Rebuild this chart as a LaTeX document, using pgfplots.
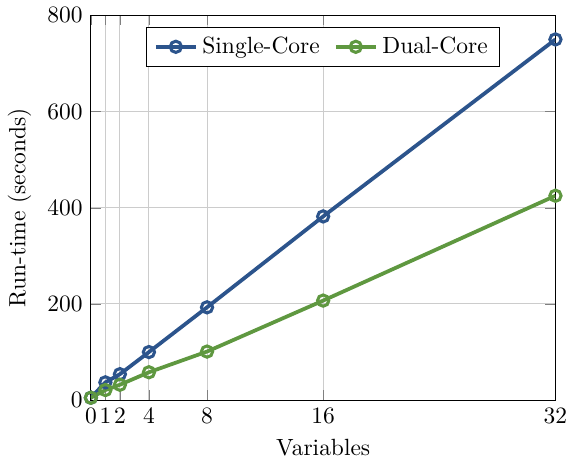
\documentclass[border=0pt]{standalone}
\usepackage{pgfplots}
\pgfplotsset{compat=1.18}
\definecolor{sblue}{RGB}{44,84,140}
\definecolor{dgreen}{RGB}{95,152,64}
\begin{document}
\begin{tikzpicture}
\begin{axis}[
  scale only axis,
  width=198pt, height=164pt,
  xmin=0, xmax=32, ymin=0, ymax=800,
  xtick={0,1,2,4,8,16,32},
  ytick={0,200,400,600,800},
  xmajorgrids, ymajorgrids,
  grid style={gray!40},
  xlabel={Variables},
  ylabel={Run-time (seconds)},
  legend style={at={(0.5,0.97)}, anchor=north, legend columns=2, /tikz/every even column/.append style={column sep=4pt}},
  tick align=inside,
]
\addplot[sblue, line width=1.6pt, mark=o, mark options={fill=white, line width=1.3pt}, mark size=2.4pt] coordinates {
  (0,5) (1,37) (2,54) (4,100) (8,193) (16,382) (32,750)
};
\addlegendentry{Single-Core}
\addplot[dgreen, line width=1.6pt, mark=o, mark options={fill=white, line width=1.3pt}, mark size=2.4pt] coordinates {
  (0,5) (1,21) (2,32) (4,58) (8,101) (16,207) (32,425)
};
\addlegendentry{Dual-Core}
\end{axis}
\end{tikzpicture}
\end{document}
